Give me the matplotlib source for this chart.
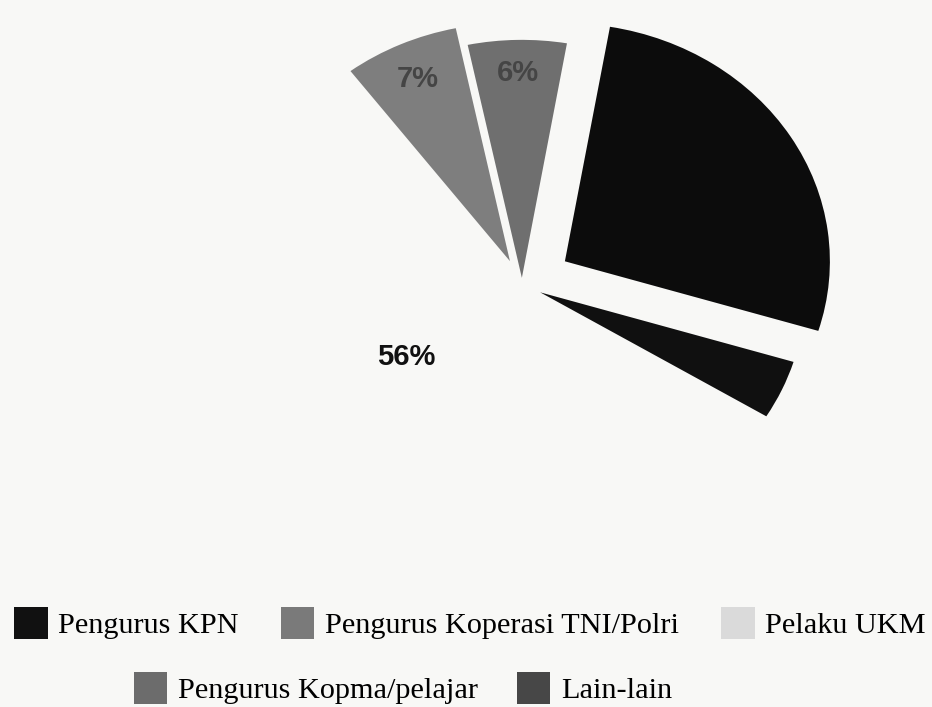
#! -*- coding: utf-8 -*-
import numpy as np
import matplotlib.pyplot as plt
from matplotlib.patches import Patch

#---------------------------------
# データ
#---------------------------------
# 描画順 (反時計回り)
slice_names = ["Pengurus KPN", "Pengurus Koperasi TNI/Polri", "Pengurus Kopma/pelajar",
               "Pelaku UKM", "Lain-lain"]
slice_values = [27, 6, 7, 56, 4]

# 凡例の順番
legend_row1 = ["Pengurus KPN", "Pengurus Koperasi TNI/Polri", "Pelaku UKM"]
legend_row2 = ["Pengurus Kopma/pelajar", "Lain-lain"]

#---------------------------------
# スタイル
#---------------------------------
BG = '#f8f8f6'
slice_colors = ['#0c0c0c', '#6f6f6f', '#7e7e7e', BG, '#101010']
legend_colors = {"Pengurus KPN": '#111111', "Pengurus Koperasi TNI/Polri": '#7a7a7a',
                 "Pelaku UKM": '#dadada', "Pengurus Kopma/pelajar": '#6c6c6c',
                 "Lain-lain": '#474747'}
# 黒い扇形の上のラベルは黒で見えない
label_colors = ['#0c0c0c', '#454545', '#454545', '#111111', '#101010']
explode = [0.19, 0.03, 0.11, 0.0, 0.075]
label_dist = [0.6, 0.86, 0.84, 0.53, 0.6]
label_shift = [0, 0, 0, -13, 0]   # 度

RX, RY = 265.0, 238.0   # px (スキャンでやや横長)
CX, CY = 522, 285       # px
W, H = 932, 707


def main():
	fig = plt.figure(figsize=(W / 100, H / 100), dpi=100)
	fig.patch.set_facecolor(BG)
	ax = fig.add_axes([0, 0, 1, 1])
	ax.set_facecolor(BG)

	wedges, _ = ax.pie(slice_values, colors=slice_colors, explode=explode,
	                   startangle=-17, counterclock=True, radius=1.0,
	                   wedgeprops=dict(linewidth=0))

	# pie() が範囲を上書きするので後で設定
	ax.set_aspect('auto')
	ax.set_xlim(-CX / RX, (W - CX) / RX)
	ax.set_ylim(-(H - CY) / RY, CY / RY)
	ax.axis('off')

	# --- ラベル ---
	for i, w in enumerate(wedges):
		mid = np.deg2rad((w.theta1 + w.theta2) / 2 + label_shift[i])
		cx, cy = w.center
		x = cx + label_dist[i] * np.cos(mid)
		y = cy + label_dist[i] * np.sin(mid)
		ax.text(x, y, f"{slice_values[i]}%", ha='center', va='center',
		        fontsize=21, fontweight='bold', family='Liberation Sans',
		        color=label_colors[i])

	# --- 凡例 ---
	kw = dict(frameon=False, handlelength=1.1, handleheight=1.25,
	          handletextpad=0.35, borderpad=0, borderaxespad=0,
	          prop={'family': 'Liberation Serif', 'size': 21.8})
	h1 = [Patch(facecolor=legend_colors[n], edgecolor='none') for n in legend_row1]
	fig.legend(h1, legend_row1, loc='center', ncol=3, columnspacing=1.4,
	           bbox_to_anchor=(470 / W, 1 - 623 / H), **kw)
	h2 = [Patch(facecolor=legend_colors[n], edgecolor='none') for n in legend_row2]
	fig.legend(h2, legend_row2, loc='center', ncol=2, columnspacing=1.3,
	           bbox_to_anchor=(403 / W, 1 - 688 / H), **kw)

	fig.savefig('out.png', dpi=100, facecolor=BG)
	plt.close(fig)


if __name__ == '__main__':
	main()
